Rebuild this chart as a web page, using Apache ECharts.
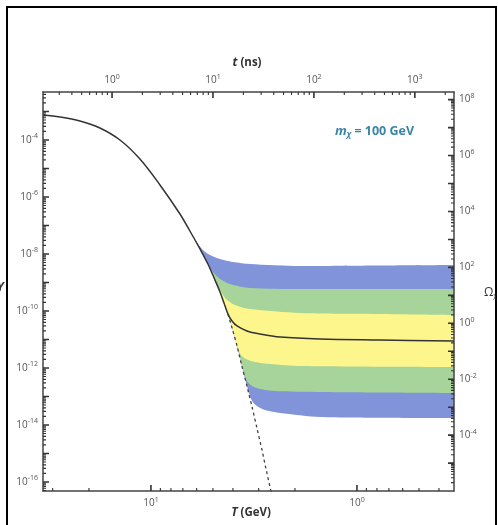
<!DOCTYPE html>
<html>
<head>
<meta charset="utf-8">
<script src="https://cdn.jsdelivr.net/npm/echarts@6/dist/echarts.min.js"></script>
<style>
  html, body { margin: 0; padding: 0; background: #fff; }
  #chart { width: 498px; height: 525px; }
</style>
</head>
<body>
<div id="chart"></div>
<script>
// Equilibrium comoving abundance Y_eq versus temperature T (GeV)
const eqT = [33.45, 27.65, 22.12, 17.69, 14.14, 11.31, 9.04, 7.23, 6.47, 5.78, 5.29, 4.89,
             4.62, 4.42, 4.23, 4.04, 3.82, 3.62, 3.42, 3.23, 3.06, 2.89, 2.77, 2.59];
const eqY = [7.53e-4, 6.41e-4, 4.64e-4, 2.64e-4, 1.0e-4, 2.15e-5, 2.64e-6, 2.53e-7, 6.41e-8,
             1.50e-8, 4.46e-9, 1.22e-9, 4.64e-10, 1.91e-10, 7.85e-11, 2.53e-11, 5.92e-12,
             1.17e-12, 2.34e-13, 4.28e-14, 7.85e-15, 1.33e-15, 3.10e-16, 3.50e-17];

// Freeze-out branch of the relic abundance (m_chi = 100 GeV)
const relicT = [4.04, 3.82, 3.42, 2.96, 2.36, 1.51, 0.773, 0.338];
const relicY = [4.46e-11, 2.98e-11, 1.99e-11, 1.56e-11, 1.22e-11, 1.04e-11, 9.6e-12, 8.86e-12];

// Band edges for cross sections scaled by 10, 100, 1000 (top to bottom)
const edge1T = [6.05, 5.59, 5.17, 4.62, 4.00, 3.31, 1.89, 0.773, 0.338];
const edge1Y = [2.86e-8, 1.38e-8, 9.2e-9, 6.68e-9, 5.24e-9, 4.46e-9, 3.79e-9, 3.95e-9, 4.11e-9];
const edge2T = [5.00, 4.62, 4.14, 3.31, 1.89, 0.338];
const edge2Y = [2.34e-9, 1.33e-9, 8.86e-10, 6.41e-10, 5.92e-10, 5.92e-10];
const edge3T = [4.62, 4.32, 3.91, 3.31, 1.89, 0.773, 0.338];
const edge3Y = [5.46e-10, 2.64e-10, 1.62e-10, 1.17e-10, 8.51e-11, 7.85e-11, 7.24e-11];
const edge4T = [3.66, 3.46, 3.13, 2.64, 1.89, 0.338];
const edge4Y = [2.86e-12, 2.07e-12, 1.62e-12, 1.38e-12, 1.17e-12, 1.08e-12];
const edge5T = [3.42, 3.23, 2.96, 2.50, 1.51, 0.338];
const edge5Y = [3.50e-13, 2.34e-13, 1.83e-13, 1.56e-13, 1.44e-13, 1.33e-13];
const edge6T = [3.23, 3.06, 2.80, 2.36, 1.51, 0.338];
const edge6Y = [6.95e-14, 4.64e-14, 3.36e-14, 2.64e-14, 1.91e-14, 1.76e-14];

// Axis ranges (decimal exponents)
const logTRange = [-0.471, 1.524];     // T (GeV), drawn decreasing to the right
const logtRange = [-0.684, 3.388];     // t (ns)
const logYRange = [-16.316, -2.316];   // Y
const logOmegaRange = [-5.997, 8.273]; // Omega_chi

const bandColors = ['#8193d9', '#a6d49a', '#fdf68c', '#a6d49a', '#8193d9', '#ffffff'];

const grid = { left: 43, right: 44, top: 92, bottom: 34 };
const plotW = 498 - grid.left - grid.right;
const plotH = 525 - grid.top - grid.bottom;

const L = Math.log10;
const pts = (ts, ys) => ts.map((t, i) => [L(t), L(ys[i])]);
const eqPts = pts(eqT, eqY);

// An edge follows the equilibrium curve until it branches off;
// the white bottom edge starts further left so it hides the band seams.
function edge(ts, ys, startT) {
  const head = [];
  eqT.forEach((t, i) => { if (t <= startT && t > ts[0]) head.push(eqPts[i]); });
  return head.concat(pts(ts, ys));
}

const edges = [
  edge(edge1T, edge1Y, 6.5), edge(edge2T, edge2Y, 6.5), edge(edge3T, edge3Y, 6.5),
  edge(edge4T, edge4Y, 6.5), edge(edge5T, edge5Y, 6.5), edge(edge6T, edge6Y, 9.1)
];

const relicLine = [];
eqT.forEach((t, i) => { if (t > relicT[0]) relicLine.push(eqPts[i]); });
pts(relicT, relicY).forEach(p => relicLine.push(p));
const eqTail = [];
eqT.forEach((t, i) => { if (t <= 4.23) eqTail.push(eqPts[i]); });

// Tick positions on a logarithmic scale expressed in exponents
function majors(a, b) { const r = []; for (let n = Math.ceil(a); n <= Math.floor(b); n++) r.push(n); return r; }
function minors(a, b) {
  const r = [];
  for (let n = Math.floor(a) - 1; n <= Math.ceil(b); n++)
    for (let k = 2; k <= 9; k++) { const v = n + L(k); if (v > a && v < b) r.push(v); }
  return r;
}

const sup = {
  base: { fontSize: 10, color: '#555', fontFamily: 'Open Sans' },
  sup: { fontSize: 7, color: '#555', fontFamily: 'Open Sans', verticalAlign: 'bottom', padding: [0, 0, 7, 0] }
};
const powLabel = v => '{base|10}{sup|' + Math.round(v) + '}';
const lineStyle = { color: '#444', width: 1.5 };

function mainAxis(pos, range, labels, extra) {
  return Object.assign({
    type: 'value', position: pos, min: range[0], max: range[1], z: 10,
    axisLine: { show: true, onZero: false, lineStyle: lineStyle },
    axisTick: { show: false },
    axisLabel: { show: true, customValues: labels, formatter: powLabel, rich: sup, margin: 5 },
    splitLine: { show: false }
  }, extra || {});
}

// Frame ticks as short inward segments, expressed in each axis' own units
function tickSeries(side, xi, yi, values, len, width) {
  const dx = len * (logTRange[1] - logTRange[0]) / plotW;
  const data = [];
  values.forEach(v => {
    if (side === 'left') { data.push([logTRange[1], v], [logTRange[1] - dx, v]); }
    else if (side === 'right') { data.push([logTRange[0], v], [logTRange[0] + dx, v]); }
    else if (side === 'bottom') {
      const dy = len * (logYRange[1] - logYRange[0]) / plotH;
      data.push([v, logYRange[0]], [v, logYRange[0] + dy]);
    } else {
      const dy = len * (logYRange[1] - logYRange[0]) / plotH;
      data.push([v, logYRange[1]], [v, logYRange[1] - dy]);
    }
    data.push(['-', '-']);
  });
  return {
    type: 'line', xAxisIndex: xi, yAxisIndex: yi, data: data, silent: true,
    showSymbol: false, connectNulls: false, clip: false, z: 12,
    lineStyle: { color: '#333', width: width }
  };
}

const series = edges.map((d, i) => ({
  type: 'line', data: d, xAxisIndex: 0, yAxisIndex: 0,
  showSymbol: false, smooth: 0.25, silent: true,
  lineStyle: { width: 0 },
  areaStyle: { color: bandColors[i], opacity: 1, origin: 'start' }
}));
series.push({
  type: 'line', data: eqTail, xAxisIndex: 0, yAxisIndex: 0, showSymbol: false,
  smooth: 0.25, silent: true,
  lineStyle: { color: '#444', width: 1.3, type: [3, 3] }
});
series.push({
  type: 'line', data: relicLine, xAxisIndex: 0, yAxisIndex: 0, showSymbol: false,
  smooth: 0.35, silent: true,
  lineStyle: { color: '#333', width: 1.5 }
});
[
  ['left', 0, 0, logYRange], ['right', 0, 1, logOmegaRange],
  ['bottom', 0, 0, logTRange], ['top', 1, 0, logtRange]
].forEach(([side, xi, yi, r]) => {
  series.push(tickSeries(side, xi, yi, majors(r[0], r[1]), 6, 1.6));
  series.push(tickSeries(side, xi, yi, minors(r[0], r[1]), 3, 1.1));
});

const chart = echarts.init(document.getElementById('chart'), null, { renderer: 'canvas' });
chart.setOption({
  animation: false,
  backgroundColor: '#fff',
  grid: grid,
  xAxis: [
    mainAxis('bottom', logTRange, [0, 1], { inverse: true }),
    mainAxis('top', logtRange, [0, 1, 2, 3])
  ],
  yAxis: [
    mainAxis('left', logYRange, [-16, -14, -12, -10, -8, -6, -4]),
    mainAxis('right', logOmegaRange, [-4, -2, 0, 2, 4, 6, 8])
  ],
  series: series,
  graphic: [
    { type: 'rect', shape: { x: 7, y: 7, width: 489, height: 530 },
      style: { fill: 'none', stroke: '#000', lineWidth: 2 }, z: 20 },
    { type: 'text', x: 247, y: 63, z: 20,
      style: { text: '{i|t} (ns)', align: 'center', verticalAlign: 'middle',
        rich: { i: { fontStyle: 'italic', fontWeight: 'bold', fontSize: 12, fontFamily: 'Open Sans', fill: '#333' } },
        font: 'bold 11.5px "Open Sans"', fill: '#333' } },
    { type: 'text', x: 251, y: 513, z: 20,
      style: { text: '{i|T} (GeV)', align: 'center', verticalAlign: 'middle',
        rich: { i: { fontStyle: 'italic', fontWeight: 'bold', fontSize: 12, fontFamily: 'Open Sans', fill: '#333' } },
        font: 'bold 11.5px "Open Sans"', fill: '#333' } },
    { type: 'text', x: 335, y: 131, z: 20,
      style: { text: '{i|m}{s|χ} = 100 GeV', verticalAlign: 'middle',
        rich: {
          i: { fontStyle: 'italic', fontWeight: 'bold', fontSize: 13, fontFamily: 'Open Sans', fill: '#3a84a6' },
          s: { fontStyle: 'italic', fontWeight: 'bold', fontSize: 8, fontFamily: 'Open Sans', fill: '#3a84a6', padding: [7, 0, 0, 0] }
        },
        font: 'bold 12.5px "Open Sans"', fill: '#3a84a6' } },
    { type: 'text', x: 484, y: 293, z: 20,
      style: { text: 'Ω{s|χ}', verticalAlign: 'middle',
        rich: { s: { fontSize: 7, fontFamily: 'Open Sans', fill: '#333', padding: [6, 0, 0, 0] } },
        font: '12px "Open Sans"', fill: '#333' } },
    { type: 'text', x: -3, y: 288, z: 20,
      style: { text: 'Y', verticalAlign: 'middle', font: 'italic bold 12px "Open Sans"', fill: '#333' } }
  ]
});
</script>
</body>
</html>
